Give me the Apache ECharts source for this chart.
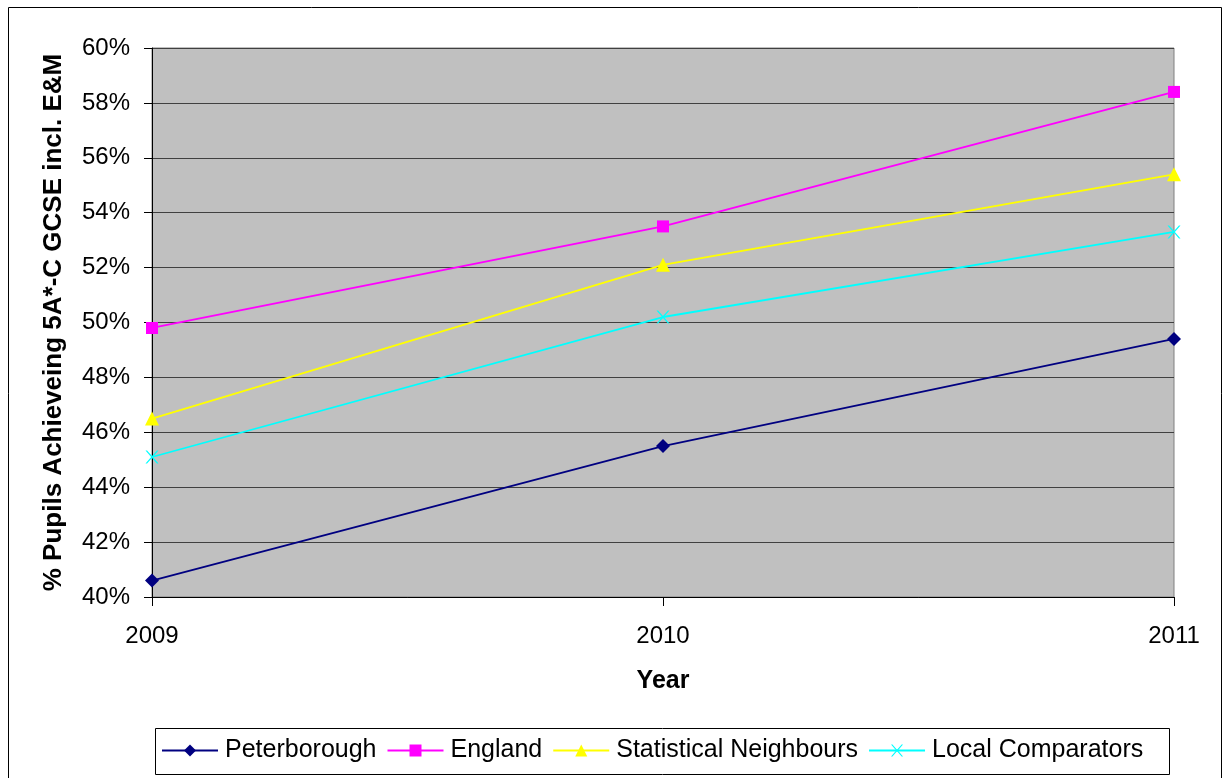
<!DOCTYPE html>
<html>
<head>
<meta charset="utf-8">
<script src="https://cdn.jsdelivr.net/npm/echarts@6/dist/echarts.min.js"></script>
<style>html,body{margin:0;padding:0;background:#fff}#c{width:1226px;height:778px}</style>
</head>
<body>
<div id="c"></div>
<script>
const years = ['2009', '2010', '2011'];
const peterborough = [40.6, 45.5, 49.4];
const england = [49.8, 53.5, 58.4];
const statNeighbours = [46.5, 52.1, 55.4];
const localComparators = [45.1, 50.2, 53.3];
const seriesNames = ['Peterborough', 'England', 'Statistical Neighbours', 'Local Comparators'];

const crossPath = 'path://M0,0 L1.2,0 L5,4.3 L8.8,0 L10,0 L5.7,5 L10,10 L8.8,10 L5,5.7 L1.2,10 L0,10 L4.3,5 Z';
const font = 'Liberation Sans, Arial, sans-serif';
const chart = echarts.init(document.getElementById('c'), null, {renderer: 'canvas'});
function mk(name, data, color, symbol, size) {
  return {
    name: name, type: 'line', data: data, symbol: symbol, symbolSize: size,
    lineStyle: {color: color, width: 1.8}, itemStyle: {color: color},
    showAllSymbol: true, animation: false
  };
}
chart.setOption({
  animation: false,
  textStyle: {fontFamily: font},
  graphic: [
    {type: 'rect', shape: {x: 8.5, y: 7.5, width: 1213, height: 790}, style: {fill: 'none', stroke: '#000', lineWidth: 1}, silent: true},
    {type: 'rect', shape: {x: 155.5, y: 728.5, width: 1014, height: 46}, style: {fill: '#fff', stroke: '#000', lineWidth: 1}, silent: true, z: -1}
  ],
  grid: {left: 152, right: 52, top: 48, bottom: 181, show: true, backgroundColor: '#c0c0c0', borderColor: '#808080', borderWidth: 1},
  xAxis: {
    type: 'category', data: years, boundaryGap: false,
    name: 'Year', nameLocation: 'middle', nameGap: 72,
    nameTextStyle: {fontSize: 25, fontWeight: 'bold', color: '#000', fontFamily: font},
    axisLine: {lineStyle: {color: '#000', width: 1}},
    axisTick: {show: true, length: 9, lineStyle: {color: '#000'}},
    axisLabel: {fontSize: 24, color: '#000', margin: 27, fontFamily: font},
    splitLine: {show: false}
  },
  yAxis: {
    type: 'value', min: 40, max: 60, interval: 2,
    name: '% Pupils Achieveing 5A*-C GCSE incl. E&M', nameLocation: 'middle', nameGap: 85,
    nameTextStyle: {fontSize: 26, fontWeight: 'bold', color: '#000', fontFamily: font},
    axisLine: {show: true, lineStyle: {color: '#000', width: 1}},
    axisTick: {show: true, length: 8, lineStyle: {color: '#000'}},
    axisLabel: {fontSize: 24, color: '#000', margin: 22, fontFamily: font, formatter: v => v + '%'},
    splitLine: {show: true, lineStyle: {color: '#404040', width: 1}}
  },
  legend: {
    data: seriesNames, left: 161, top: 738, width: 1010,
    padding: 0,
    itemWidth: 56, itemHeight: 15, itemGap: 10,
    textStyle: {fontSize: 25, color: '#000', fontFamily: font, padding: [0, 0, 0, 2]}
  },
  series: [
    mk(seriesNames[0], peterborough, '#000080', 'diamond', 14),
    mk(seriesNames[1], england, '#ff00ff', 'rect', 12),
    mk(seriesNames[2], statNeighbours, '#ffff00', 'triangle', 14),
    mk(seriesNames[3], localComparators, '#00ffff', crossPath, 13)
  ]
});
</script>
</body>
</html>
